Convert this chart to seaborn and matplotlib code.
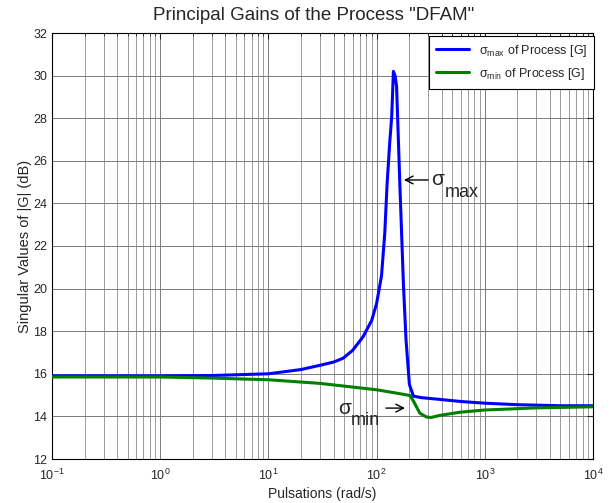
import matplotlib
matplotlib.use("Agg")
import matplotlib.pyplot as plt
import seaborn as sns
import pandas as pd

# ---- data ----
freq_max = [0.1, 1, 3, 10, 20, 30, 40, 49, 60, 75, 90, 100, 111, 119, 125, 132, 138,
            143, 148, 153, 164, 177, 187, 201, 219, 260, 380, 600, 1000, 2000, 5000, 10000]
sigma_max = [15.9, 15.9, 15.92, 16.0, 16.2, 16.4, 16.55, 16.73, 17.1, 17.74, 18.5, 19.3,
             20.6, 22.6, 24.9, 26.8, 28.1, 30.2, 30.0, 29.5, 24.9, 20.2, 17.6, 15.5, 14.95,
             14.88, 14.8, 14.7, 14.62, 14.55, 14.5, 14.5]
freq_min = [0.1, 1, 3, 10, 30, 100, 150, 204, 220, 251, 290, 320, 385, 600, 1000, 3000, 10000]
sigma_min = [15.85, 15.85, 15.8, 15.72, 15.55, 15.25, 15.1, 14.98, 14.7, 14.15, 13.97,
             13.95, 14.05, 14.2, 14.3, 14.4, 14.45]

label_max = r"$\sigma_{max}$ of Process [G]"
label_min = r"$\sigma_{min}$ of Process [G]"
title = 'Principal Gains of the Process "DFAM"'
xlabel = "Pulsations (rad/s)"
ylabel = "Singular Values of |G| (dB)"

sns.set_style("white")
FAM = ["Liberation Sans", "DejaVu Sans"]
plt.rcParams["font.family"] = FAM
plt.rcParams["mathtext.fontset"] = "custom"
plt.rcParams["mathtext.rm"] = "Liberation Sans"
plt.rcParams["mathtext.it"] = "Liberation Sans"

fig = plt.figure(figsize=(6.15, 5.03), dpi=100)
ax = fig.add_axes([52 / 615, 1 - 459 / 503, (593 - 52) / 615, (459 - 33) / 503])

df_max = pd.DataFrame({"w": freq_max, "s": sigma_max})
df_min = pd.DataFrame({"w": freq_min, "s": sigma_min})
sns.lineplot(data=df_max, x="w", y="s", ax=ax, color="#0000ff", lw=2.2, label=label_max,
             sort=False, zorder=3)
sns.lineplot(data=df_min, x="w", y="s", ax=ax, color="#007f00", lw=2.2, label=label_min,
             sort=False, zorder=3)

ax.set_xscale("log")
ax.set_xlim(0.1, 1e4)
ax.set_ylim(12, 32)
ax.set_yticks(range(12, 33, 2))
ax.grid(True, which="major", axis="both", color="#7a7a7a", lw=0.7)
ax.grid(True, which="minor", axis="x", color="#8a8a8a", lw=0.6)
ax.tick_params(which="both", direction="in", top=True, right=True, labelsize=9, length=4)
ax.tick_params(which="minor", length=2)
ax.tick_params(axis="x", which="major", pad=6)
for sp in ax.spines.values():
    sp.set_color("black")
    sp.set_linewidth(0.8)

ax.set_title(title, fontsize=13.5, pad=9, x=0.484)
ax.set_xlabel(xlabel, fontsize=10, labelpad=3)
ax.set_ylabel(ylabel, fontsize=10.5, labelpad=1)

leg = ax.legend(loc="upper right", bbox_to_anchor=(1.002, 0.993), fontsize=9, frameon=True,
                fancybox=False, framealpha=1, edgecolor="black", handlelength=2.6,
                borderaxespad=0, borderpad=0.55, labelspacing=0.55)
leg.get_frame().set_linewidth(0.8)

# annotations (thin arrows, MATLAB-style full-size subscripts)
arw = dict(arrowstyle="->, head_length=0.55, head_width=0.28", color="black", lw=1.0,
           shrinkA=0, shrinkB=0)
ax.annotate("", xy=(179, 25.1), xytext=(299, 25.1), arrowprops=arw)
ax.text(318, 25.1, "\u03c3", fontsize=15, ha="left", va="center", family=FAM)
ax.text(429, 24.5, "max", fontsize=13, ha="left", va="center", family=FAM)
ax.text(44, 14.39, "\u03c3", fontsize=15, ha="left", va="center", family=FAM)
ax.text(58, 13.8, "min", fontsize=13, ha="left", va="center", family=FAM)
ax.annotate("", xy=(183, 14.39), xytext=(122, 14.39), arrowprops=arw)

fig.savefig("out.png", dpi=100)
